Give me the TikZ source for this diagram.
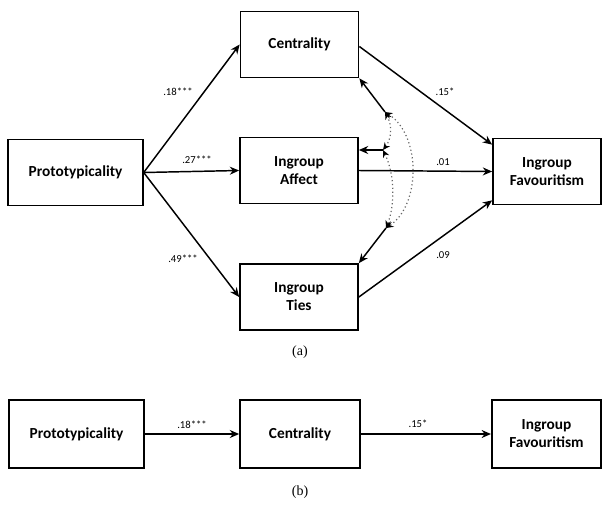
\documentclass[tikz,border=0pt]{standalone}
\usepackage{fontspec}
\setmainfont{Liberation Serif}
\newfontfamily\calfont{Carlito}
\usetikzlibrary{arrows.meta, calc}
\tikzset{
  %% ---- boxes ----
  varbox/.style   = {rectangle, draw=black, line width=1.3pt, fill=white,
                     minimum width=#1, minimum height=49.5pt, align=center,
                     inner sep=0pt, font=\calfont\bfseries\fontsize{11.5}{13.5}\selectfont},
  varbox/.default = 88.5pt,
  coef/.style     = {font=\calfont\fontsize{8}{9}\selectfont, inner sep=1pt},
  panel/.style    = {font=\fontsize{10.5}{12}\selectfont},
  %% ---- arrows ----
  arrow/.style    = {-{Stealth[length=7pt, width=6pt]}, line width=1.1pt},
  corrarrow/.style= {{Stealth[length=5.5pt, width=5pt, color=black]}-{Stealth[length=5.5pt, width=5pt, color=black]},
                     dotted, line width=0.9pt, color=gray!80!black},
}
\begin{document}
\begin{tikzpicture}[x=0.75pt, y=-0.75pt]
  \useasboundingbox (0,0) rectangle (603,507);

  %% Model (a)
  \node[varbox=101pt] (proto) at (75.5,172.5) {Prototypicality};
  \node[varbox] (cent) at (299.5,44.5) {Centrality};
  \node[varbox] (aff)  at (299,170.5)  {Ingroup\\Affect};
  \node[varbox] (ties) at (299,297)    {Ingroup\\Ties};
  \node[varbox=81pt] (fav) at (547,171.5) {Ingroup\\Favouritism};

  \draw[arrow] (proto.east) -- (cent.west);
  \draw[arrow] (proto.east) -- (aff.west);
  \draw[arrow] (proto.east) -- (ties.west);
  \draw[arrow] ($(cent.east)+(0,2)$) -- ($(fav.north west)+(0,7)$);
  \draw[arrow] (aff.east) -- (fav.west);
  \draw[arrow] (ties.east) -- ($(fav.south west)+(0,-5)$);

  \node[coef] (c1) at (178,92)  {.18***};
  \node[coef] (c2) at (197,160) {.27***};
  \node[coef] (c3) at (183,259) {.49***};
  \node[coef] (c4) at (445,92)  {.15*};
  \node[coef] (c5) at (443,162) {.01};
  \node[coef] (c6) at (443,255) {.09};

  %% correlations between mediators
  \coordinate (jc) at (385,112);
  \coordinate (ja) at (383,150);
  \coordinate (jt) at (386,228);
  \draw[arrow] (jc) -- (cent.south east);
  \draw[arrow] (ja) -- (aff.east |- ja);
  \draw[arrow] (jt) -- (ties.north east);
  \draw[corrarrow] (jc) .. controls (392,125) and (392,138) .. (ja);
  \draw[corrarrow] (ja) .. controls (395,175) and (395,205) .. (jt);
  \draw[corrarrow] (jc) .. controls (421,135) and (421,205) .. (jt);

  \node[panel] (la) at (300,352) {(a)};

  %% Model (b)
  \node[varbox=101pt, minimum height=51pt] (bproto) at (76.5,434) {Prototypicality};
  \node[varbox=90pt, minimum height=51pt]  (bcent)  at (300,434)  {Centrality};
  \node[varbox=82pt, minimum height=51pt]  (bfav)   at (546.5,434) {Ingroup\\Favouritism};

  \draw[arrow] (bproto) -- (bcent);
  \draw[arrow] (bcent) -- (bfav);
  \node[coef] (b1) at (192,425) {.18***};
  \node[coef] (b2) at (418,424) {.15*};

  \node[panel] (lb) at (300,492) {(b)};
\end{tikzpicture}
\end{document}
